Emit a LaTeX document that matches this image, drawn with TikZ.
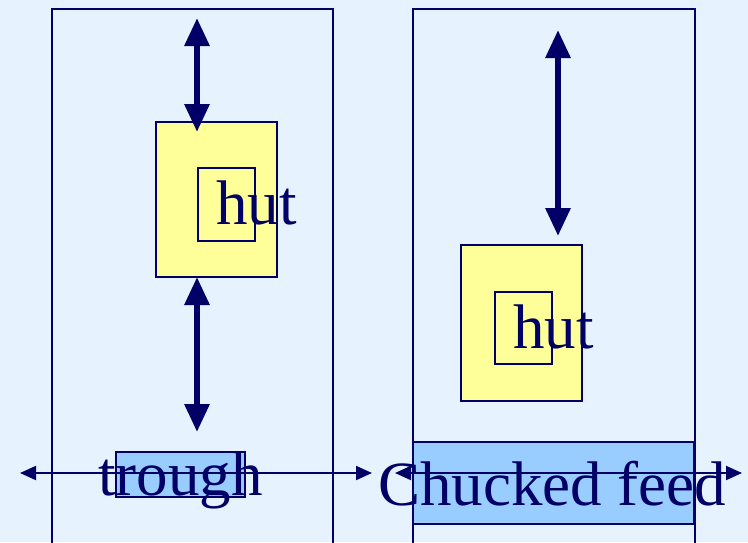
\documentclass[tikz,border=0pt]{standalone}
\usepackage{fontspec}
\setmainfont{Liberation Serif}
\usetikzlibrary{arrows.meta}
\definecolor{navy}{HTML}{000066}
\definecolor{bgblue}{HTML}{E6F3FF}
\definecolor{hutyellow}{HTML}{FFFF99}
\definecolor{feedblue}{HTML}{99CCFF}
\begin{document}
\begin{tikzpicture}[x=1pt,y=-1pt,
  pen/.style={draw=navy,line width=1.5pt},
  hutbox/.style={pen,fill=hutyellow,line width=2pt},
  feedbox/.style={pen,fill=feedblue},
  bigtext/.style={text=navy,font=\fontsize{63}{63}\selectfont,inner sep=0pt,anchor=base west},
  fatarrow/.style={draw=navy,line width=6pt,{Triangle[width=24pt,length=28pt]}-{Triangle[width=24pt,length=28pt]},shorten <=0pt,shorten >=0pt},
  thinarrow/.style={draw=navy,line width=2pt,{Triangle[width=14pt,length=16pt]}-{Triangle[width=14pt,length=16pt]}}]
  \clip (0,0) rectangle (748,542);
  \fill[bgblue] (0,0) rectangle (748,542);

  % left pen
  \draw[pen] (52,9) rectangle (333,560);
  \draw[hutbox] (156,122) rectangle (277,277);
  \node[pen,minimum width=57pt,minimum height=73pt,inner sep=0pt] (lhut) at (226.5,204.5) {};
  \node[bigtext] (lhutlabel) at (216,224) {hut};
  \coordinate (ltop) at (197,18);
  \coordinate (lmid) at (197,132);
  \coordinate (lmid2) at (197,277);
  \coordinate (lbot) at (197,432);
  \draw[fatarrow] (ltop) -- (lmid);
  \draw[fatarrow] (lmid2) -- (lbot);
  \draw[feedbox] (116,452) rectangle (245,497);
  \node[bigtext] (trough) at (98,495) {trough};
  \coordinate (lwest) at (20,473);
  \coordinate (least) at (372,473);
  \draw[thinarrow] (lwest) -- (least);

  % right pen
  \draw[pen] (413,9) rectangle (695,560);
  \draw[hutbox] (461,245) rectangle (582,401);
  \node[pen,minimum width=57pt,minimum height=72pt,inner sep=0pt] (rhut) at (523.5,328) {};
  \node[bigtext] (rhutlabel) at (513,348) {hut};
  \coordinate (rtop) at (558,30);
  \coordinate (rbot) at (558,236);
  \draw[fatarrow] (rtop) -- (rbot);
  \draw[feedbox] (413,442) rectangle (694,524);
  \node[bigtext] (chucked) at (378,505) {Chucked feed};
  \coordinate (rwest) at (395,473);
  \coordinate (reast) at (742,473);
  \draw[thinarrow] (rwest) -- (reast);
\end{tikzpicture}
\end{document}
